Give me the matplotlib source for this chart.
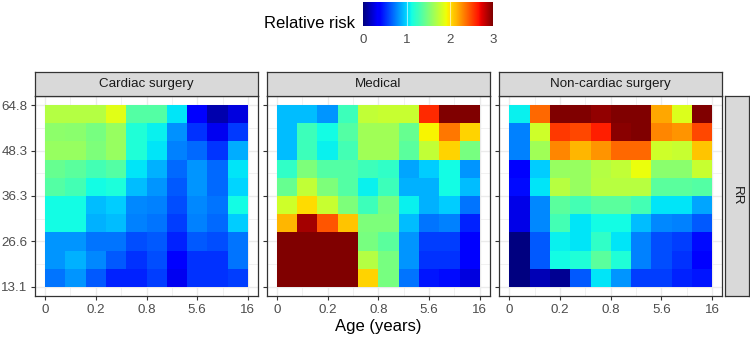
import numpy as np
import matplotlib
matplotlib.use("Agg")
import matplotlib.pyplot as plt
from matplotlib.cm import ScalarMappable
from matplotlib.colors import Normalize

plt.rcParams['font.family'] = ['Liberation Sans', 'DejaVu Sans']

# ---- data (rows listed top -> bottom, i.e. RR high -> low; columns age low -> high)
panels = ["Cardiac surgery", "Medical", "Non-cardiac surgery"]
row_strip = "RR"
x_tick_labels = ["0", "0.2", "0.8", "5.6", "16"]
y_tick_labels = ["13.1", "26.6", "36.3", "48.3", "64.8"]

cardiac = [
    [1.70, 1.70, 1.70, 1.87, 1.35, 1.35, 1.05, 0.37, 0.12, 0.25],
    [1.57, 1.55, 1.48, 1.60, 1.17, 1.08, 0.80, 0.52, 0.30, 0.55],
    [1.60, 1.60, 1.50, 1.60, 1.17, 1.05, 0.75, 0.68, 0.53, 0.88],
    [1.42, 1.38, 1.30, 1.35, 1.05, 0.90, 0.68, 0.82, 0.68, 1.05],
    [1.35, 1.30, 1.12, 1.15, 0.93, 0.82, 0.64, 0.82, 0.68, 1.00],
    [1.12, 1.12, 0.93, 0.98, 0.78, 0.75, 0.60, 0.78, 0.72, 1.12],
    [1.12, 1.12, 0.90, 0.93, 0.75, 0.72, 0.56, 0.75, 0.68, 0.98],
    [0.82, 0.82, 0.72, 0.72, 0.60, 0.64, 0.48, 0.64, 0.60, 0.72],
    [0.82, 0.90, 0.78, 0.64, 0.52, 0.60, 0.37, 0.52, 0.52, 0.72],
    [0.72, 0.82, 0.64, 0.48, 0.48, 0.56, 0.30, 0.52, 0.52, 0.56],
]
medical = [
    [0.93, 0.93, 0.82, 1.27, 1.75, 1.78, 1.78, 2.60, 3.20, 3.20],
    [0.93, 1.27, 1.12, 1.35, 1.64, 1.64, 1.42, 1.95, 2.35, 2.06],
    [0.93, 1.27, 1.08, 1.30, 1.64, 1.64, 1.38, 1.75, 2.06, 1.48],
    [1.22, 1.50, 1.35, 1.35, 1.27, 1.22, 0.86, 0.98, 1.12, 0.82],
    [1.42, 1.75, 1.50, 1.35, 1.08, 1.27, 0.90, 0.90, 1.12, 0.93],
    [1.80, 2.03, 1.78, 1.50, 1.27, 1.48, 1.08, 0.90, 0.98, 0.72],
    [2.15, 2.90, 2.45, 2.10, 1.50, 1.50, 0.93, 0.72, 0.75, 0.48],
    [3.20, 3.20, 3.20, 3.20, 1.48, 1.38, 0.82, 0.56, 0.56, 0.37],
    [3.20, 3.20, 3.20, 3.20, 1.70, 1.48, 0.82, 0.52, 0.52, 0.33],
    [3.20, 3.20, 3.20, 3.20, 2.06, 1.48, 0.72, 0.44, 0.41, 0.25],
]
noncardiac = [
    [1.08, 2.40, 3.10, 3.10, 2.95, 3.10, 3.10, 2.20, 1.85, 3.10],
    [0.75, 1.80, 2.55, 2.50, 2.63, 2.97, 3.00, 2.30, 2.25, 2.50],
    [0.75, 1.64, 2.30, 2.15, 2.25, 2.40, 2.40, 1.80, 1.78, 2.10],
    [0.37, 0.98, 1.60, 1.60, 1.70, 1.75, 1.90, 1.55, 1.55, 1.78],
    [0.40, 1.05, 1.72, 1.60, 1.72, 1.72, 1.72, 1.38, 1.38, 1.35],
    [0.27, 0.78, 1.38, 1.30, 1.38, 1.38, 1.30, 1.05, 1.05, 0.86],
    [0.27, 0.78, 1.30, 1.05, 1.12, 1.12, 0.93, 0.78, 0.75, 0.64],
    [0.00, 0.64, 1.08, 1.05, 1.22, 1.05, 0.75, 0.60, 0.56, 0.40],
    [0.00, 0.64, 1.12, 1.17, 1.38, 1.17, 0.75, 0.60, 0.52, 0.33],
    [0.00, 0.15, 0.05, 0.64, 1.05, 0.82, 0.56, 0.56, 0.48, 0.44],
]
panel_data = [cardiac, medical, noncardiac]
vmin, vmax = 0, 3
cbar_ticks = [0, 1, 2, 3]

# ---- layout (pixels)
W, H = 750, 338
fig = plt.figure(figsize=(W / 100, H / 100), dpi=100)

def ax_px(x0, y0, x1, y1):
    return fig.add_axes([x0 / W, 1 - y1 / H, (x1 - x0) / W, (y1 - y0) / H])

panel_x = [(35, 258), (266.7, 490), (499.3, 722.3)]
p_top, p_bot = 96, 296
s_top = 71.7
dark = '#333333'
grey_txt = '#4D4D4D'
strip_fill = '#D9D9D9'

nrow, ncol = 10, 10
xedges = np.arange(ncol + 1)
yedges = np.arange(nrow + 1)
tick_pos = [0, 2.5, 5, 7.5, 10]
minor_pos = [1.25, 3.75, 6.25, 8.75]

for i, (name, data) in enumerate(zip(panels, panel_data)):
    x0, x1 = panel_x[i]
    ax = ax_px(x0, p_top, x1, p_bot)
    Z = np.flipud(np.array(data))
    ax.set_axisbelow(True)
    ax.pcolormesh(xedges, yedges, Z, cmap='jet', vmin=vmin, vmax=vmax, zorder=2)
    ax.set_xlim(-0.5, 10.5)
    ax.set_ylim(-0.5, 10.5)
    ax.set_xticks(tick_pos)
    ax.set_xticklabels(x_tick_labels)
    ax.set_yticks(tick_pos)
    if i == 0:
        ax.set_yticklabels(y_tick_labels)
    else:
        ax.set_yticklabels([])
        ax.tick_params(axis='y', length=0)
    ax.set_xticks(minor_pos, minor=True)
    ax.set_yticks(minor_pos, minor=True)
    ax.grid(True, which='major', color='#EBEBEB', lw=1.0, zorder=0)
    ax.grid(True, which='minor', color='#EBEBEB', lw=0.5, zorder=0)
    ax.tick_params(which='minor', length=0)
    ax.tick_params(which='major', color=dark, length=3, width=0.8,
                   labelsize=9.6, labelcolor=grey_txt, pad=2.5)
    for s in ax.spines.values():
        s.set_color(dark)
        s.set_linewidth(0.9)
    # strip
    sax = ax_px(x0, s_top, x1, p_top)
    sax.set_facecolor(strip_fill)
    sax.set_xticks([]); sax.set_yticks([])
    for s in sax.spines.values():
        s.set_color(dark); s.set_linewidth(0.9)
    sax.text(0.5, 0.5, name, ha='center', va='center', fontsize=9.6,
             color='#1A1A1A', transform=sax.transAxes)

# right strip
rax = ax_px(724.5, p_top, 749, p_bot)
rax.set_facecolor(strip_fill)
rax.set_xticks([]); rax.set_yticks([])
for s in rax.spines.values():
    s.set_color(dark); s.set_linewidth(0.9)
rax.text(0.5, 0.5, row_strip, ha='center', va='center', rotation=-90,
         fontsize=9.6, color='#1A1A1A', transform=rax.transAxes)

# x axis title
fig.text((35 + 722.3) / 2 / W, 1 - 327 / H, "Age (years)", ha='center',
         va='center', fontsize=12, color='black')

# colorbar legend
cax = ax_px(363.3, 2, 493, 26)
sm = ScalarMappable(norm=Normalize(vmin, vmax), cmap='jet')
cb = fig.colorbar(sm, cax=cax, orientation='horizontal', ticks=cbar_ticks)
cb.outline.set_visible(False)
cax.tick_params(length=0, labelsize=9.6, labelcolor=grey_txt, pad=6)
cax.set_xticklabels([str(t) for t in cbar_ticks])
for t in cbar_ticks[1:-1]:
    cax.axvline(t, color='white', lw=0.8, alpha=0.6)
fig.text(355 / W, 1 - 23 / H, "Relative risk", ha='right', va='center',
         fontsize=12, color='black')

fig.savefig("out.png", dpi=100)
